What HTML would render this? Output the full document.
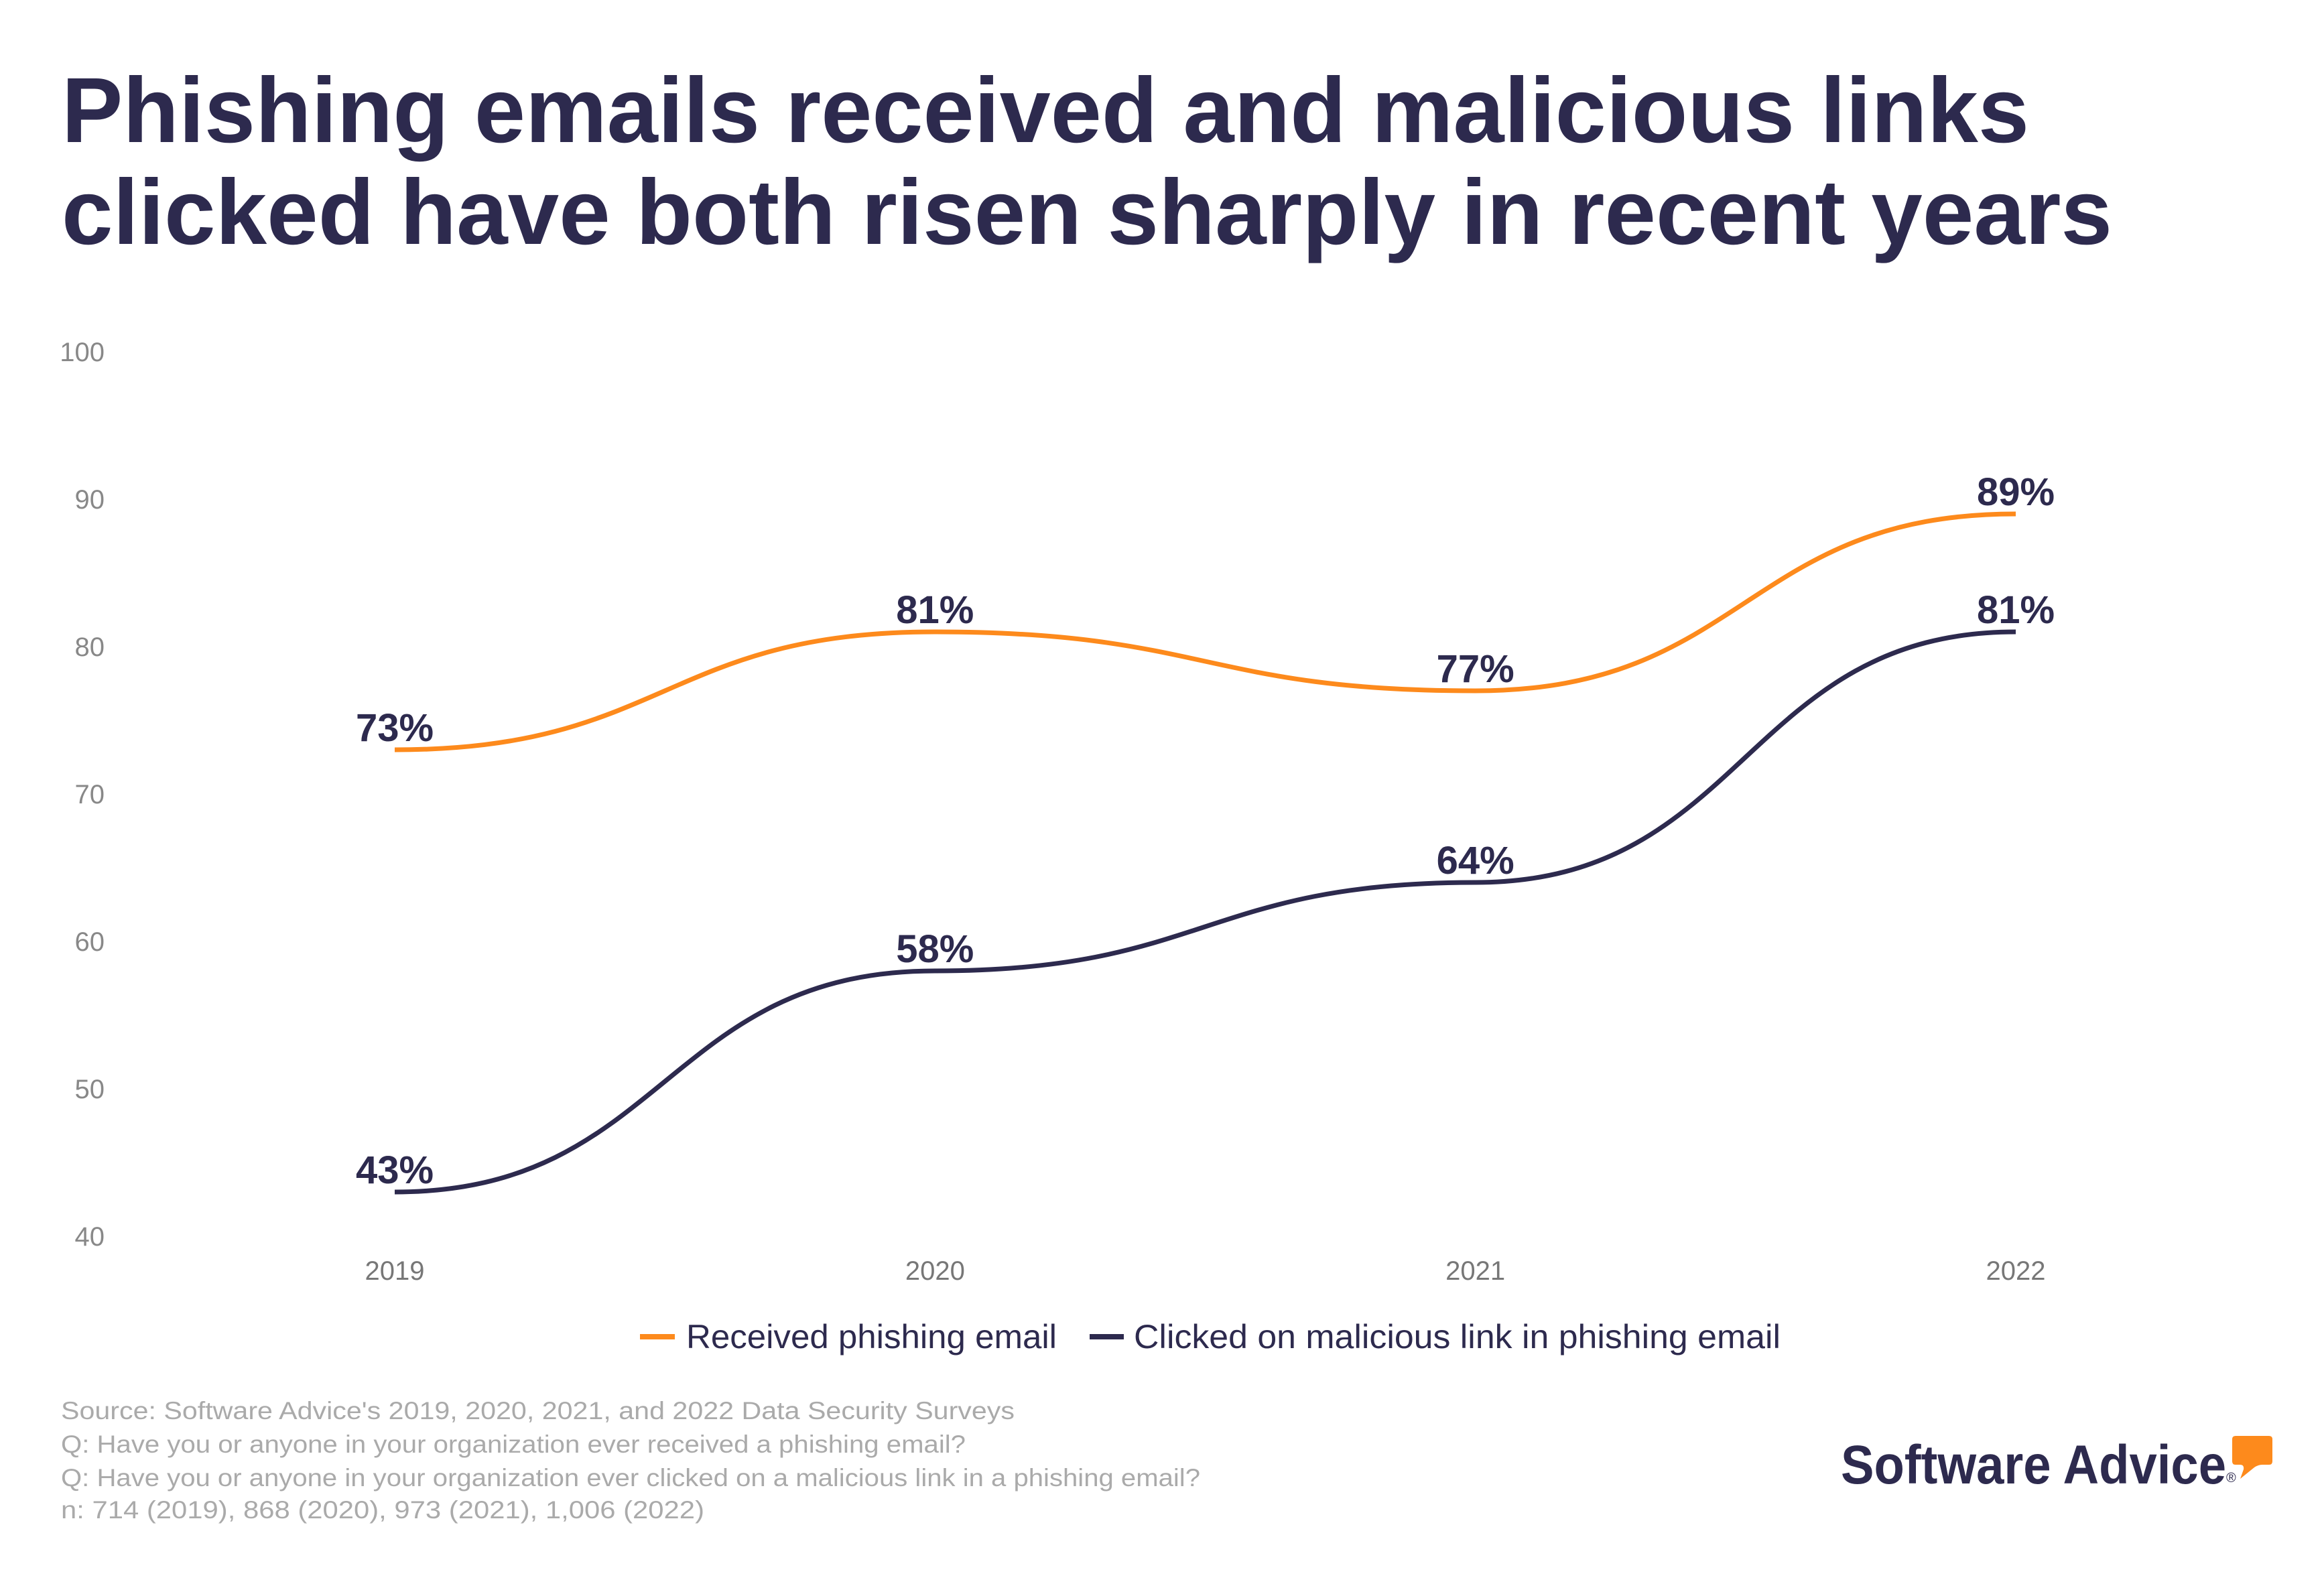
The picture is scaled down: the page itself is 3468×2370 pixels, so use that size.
<!DOCTYPE html>
<html><head><meta charset="utf-8"><style>
html,body{margin:0;padding:0;background:#fff;}
svg{display:block;}
text{font-family:"Liberation Sans",sans-serif;}
</style></head><body>
<svg id="chart" width="3468" height="2370" viewBox="0 0 3468 2370" xmlns="http://www.w3.org/2000/svg">
<text x="92" y="212" font-size="138" font-weight="bold" fill="#2d2a4e" textLength="2936" lengthAdjust="spacingAndGlyphs">Phishing emails received and malicious links</text>
<text x="92" y="364" font-size="138" font-weight="bold" fill="#2d2a4e" textLength="3060" lengthAdjust="spacingAndGlyphs">clicked have both risen sharply in recent years</text>
<g id="yaxis"></g>
<g id="xaxis"></g>
<g id="series"></g>
<g>
<line x1="955" y1="1995" x2="1007" y2="1995" stroke="#fd8a1c" stroke-width="8"/>
<text x="1024" y="2012" font-size="50" fill="#2d2a4e" textLength="553" lengthAdjust="spacingAndGlyphs">Received phishing email</text>
<line x1="1626" y1="1995" x2="1677" y2="1995" stroke="#2d2a4e" stroke-width="8"/>
<text x="1692" y="2012" font-size="50" fill="#2d2a4e" textLength="965" lengthAdjust="spacingAndGlyphs">Clicked on malicious link in phishing email</text>
</g>
<g fill="#aaaaaa" font-size="37">
<text x="91" y="2118" textLength="1423" lengthAdjust="spacingAndGlyphs">Source: Software Advice's 2019, 2020, 2021, and 2022 Data Security Surveys</text>
<text x="91" y="2168" textLength="1350" lengthAdjust="spacingAndGlyphs">Q: Have you or anyone in your organization ever received a phishing email?</text>
<text x="91" y="2218" textLength="1700" lengthAdjust="spacingAndGlyphs">Q: Have you or anyone in your organization ever clicked on a malicious link in a phishing email?</text>
<text x="91" y="2266" textLength="960" lengthAdjust="spacingAndGlyphs">n: 714 (2019), 868 (2020), 973 (2021), 1,006 (2022)</text>
</g>
<g>
<text x="2747" y="2214" font-size="82" font-weight="bold" fill="#2d2a4e" textLength="575" lengthAdjust="spacingAndGlyphs">Software Advice</text>
<text x="3322" y="2212" font-size="20" fill="#2d2a4e">®</text>
<path d="M3336 2143 h50 q5 0 5 5 v33 q0 5 -5 5 h-10 q-6 0 -12 4 l-21 17 l5 -14 q1 -7 -5 -7 h-7 q-5 0 -5 -5 v-33 q0 -5 5 -5 z" fill="#fd8a1c"/>
</g>
</svg>
<script>
const years = ["2019","2020","2021","2022"];
const received = [73, 81, 77, 89];
const clicked = [43, 58, 64, 81];
const yTicks = [40, 50, 60, 70, 80, 90, 100];

const NS = "http://www.w3.org/2000/svg";
const x0 = 589, x1 = 3008, y0 = 1845, y1 = 525, vmin = 40, vmax = 100;
function xPos(i){ return x0 + (x1 - x0) * i / (years.length - 1); }
function yPos(v){ return y0 - (v - vmin) / (vmax - vmin) * (y0 - y1); }
function mk(tag, attrs, parent){ const e = document.createElementNS(NS, tag); for (const k in attrs) e.setAttribute(k, attrs[k]); parent.appendChild(e); return e; }

const ya = document.getElementById('yaxis');
yTicks.forEach(v => {
  const t = mk('text', {x: 156, y: yPos(v) + 14, 'font-size': 40, fill: '#888888', 'text-anchor': 'end'}, ya);
  
  
  t.textContent = v;
});
const xa = document.getElementById('xaxis');
years.forEach((yr, i) => {
  const t = mk('text', {x: xPos(i), y: 1910, 'font-size': 40, fill: '#777777', 'text-anchor': 'middle'}, xa);
  
  
  t.textContent = yr;
});

function bumpPath(vals){
  let d = 'M' + xPos(0) + ' ' + yPos(vals[0]);
  for (let i = 1; i < vals.length; i++) {
    const xa_ = xPos(i-1), xb = xPos(i), xm = (xa_ + xb) / 2;
    d += ' C' + xm + ' ' + yPos(vals[i-1]) + ' ' + xm + ' ' + yPos(vals[i]) + ' ' + xb + ' ' + yPos(vals[i]);
  }
  return d;
}
const sg = document.getElementById('series');
const l1 = mk('path', {d: bumpPath(received), fill: 'none', stroke: '#fd8a1c', 'stroke-width': 7}, sg);


const l2 = mk('path', {d: bumpPath(clicked), fill: 'none', stroke: '#2d2a4e', 'stroke-width': 7}, sg);



[received, clicked].forEach((vals, s) => {
  vals.forEach((v, i) => {
    const t = mk('text', {x: xPos(i), y: yPos(v) - 13, 'font-size': 58, 'font-weight': 'bold', fill: '#2d2a4e', 'text-anchor': 'middle'}, sg);
    
    
    t.textContent = v + '%';
  });
});
</script>
</body></html>
